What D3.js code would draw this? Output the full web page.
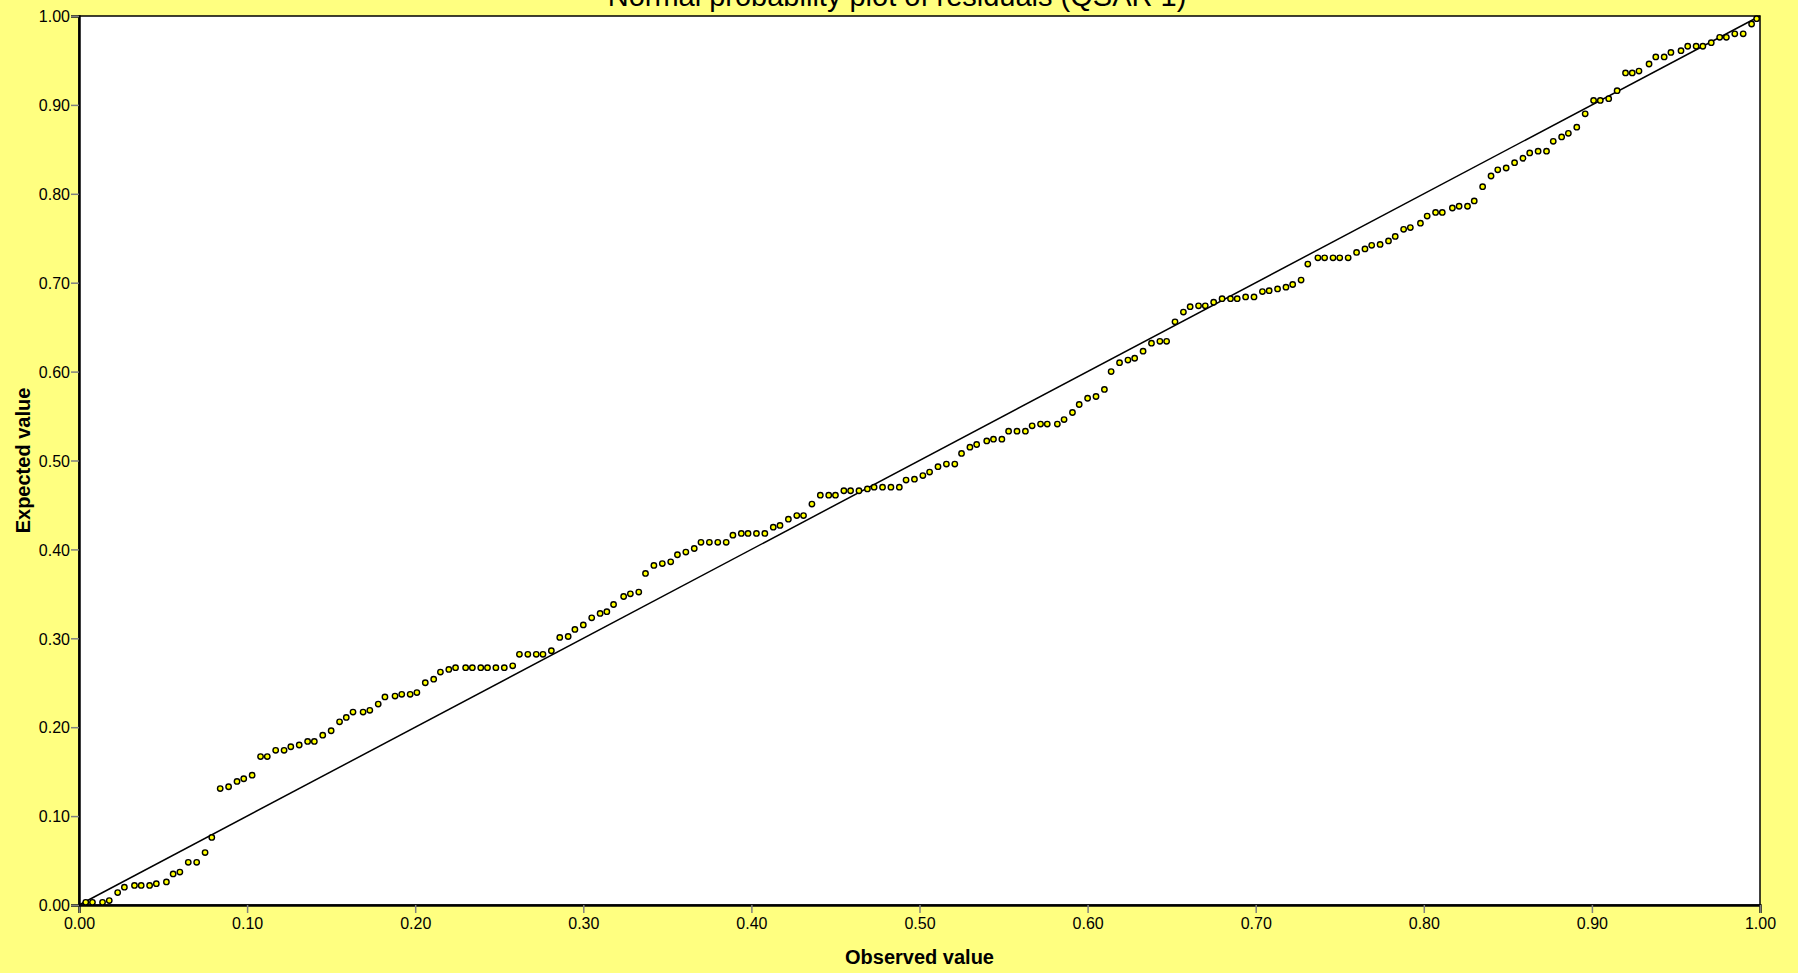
<!DOCTYPE html>
<html>
<head>
<meta charset="utf-8">
<script src="https://cdn.jsdelivr.net/npm/d3@7"></script>
<style>
    html, body { margin: 0; padding: 0; background: #ffff80; }
    svg { display: block; font-family: "Liberation Sans", Arial, sans-serif; }
</style>
</head>
<body>
<div id="plot"></div>
<script>
var title = "Normal probability plot of residuals (QSAR 1)";
var xLabel = "Observed value";
var yLabel = "Expected value";

var xTicks = [0, 0.1, 0.2, 0.3, 0.4, 0.5, 0.6, 0.7, 0.8, 0.9, 1.0];
var yTicks = [0, 0.1, 0.2, 0.3, 0.4, 0.5, 0.6, 0.7, 0.8, 0.9, 1.0];

// observed value of each residual
var observed = [
    0.004, 0.008, 0.014, 0.018, 0.023, 0.027, 0.033, 0.037, 0.042, 0.046,
    0.052, 0.056, 0.060, 0.065, 0.070, 0.075, 0.079, 0.084, 0.089, 0.094,
    0.098, 0.103, 0.108, 0.112, 0.117, 0.122, 0.126, 0.131, 0.136, 0.140,
    0.145, 0.150, 0.155, 0.159, 0.163, 0.169, 0.173, 0.178, 0.182, 0.188,
    0.192, 0.197, 0.201, 0.206, 0.211, 0.215, 0.220, 0.224, 0.230, 0.234,
    0.239, 0.243, 0.248, 0.253, 0.258, 0.262, 0.267, 0.272, 0.276, 0.281,
    0.286, 0.291, 0.295, 0.300, 0.305, 0.310, 0.314, 0.318, 0.324, 0.328,
    0.333, 0.337, 0.342, 0.347, 0.352, 0.356, 0.361, 0.366, 0.370, 0.375,
    0.380, 0.385, 0.389, 0.394, 0.398, 0.403, 0.408, 0.413, 0.417, 0.422,
    0.427, 0.431, 0.436, 0.441, 0.446, 0.450, 0.455, 0.459, 0.464, 0.469,
    0.473, 0.478, 0.483, 0.488, 0.492, 0.497, 0.502, 0.506, 0.511, 0.516,
    0.521, 0.525, 0.530, 0.534, 0.540, 0.544, 0.549, 0.553, 0.558, 0.563,
    0.567, 0.572, 0.576, 0.582, 0.586, 0.591, 0.595, 0.600, 0.605, 0.610,
    0.614, 0.619, 0.624, 0.628, 0.633, 0.638, 0.643, 0.647, 0.652, 0.657,
    0.661, 0.666, 0.670, 0.675, 0.680, 0.685, 0.689, 0.694, 0.699, 0.704,
    0.708, 0.713, 0.718, 0.722, 0.727, 0.731, 0.737, 0.741, 0.746, 0.750,
    0.755, 0.760, 0.765, 0.769, 0.774, 0.779, 0.783, 0.788, 0.792, 0.798,
    0.802, 0.807, 0.811, 0.817, 0.821, 0.826, 0.830, 0.835, 0.840, 0.844,
    0.849, 0.854, 0.859, 0.863, 0.868, 0.873, 0.877, 0.882, 0.886, 0.891,
    0.896, 0.901, 0.905, 0.910, 0.915, 0.920, 0.924, 0.928, 0.934, 0.938,
    0.943, 0.947, 0.953, 0.957, 0.962, 0.966, 0.971, 0.976, 0.980, 0.985,
    0.990, 0.995, 0.998
];

// expected normal value for each residual
var expected = [
    0.003, 0.003, 0.003, 0.005, 0.014, 0.020, 0.022, 0.022, 0.022, 0.024,
    0.026, 0.035, 0.037, 0.048, 0.048, 0.059, 0.076, 0.131, 0.133, 0.139,
    0.142, 0.146, 0.167, 0.167, 0.174, 0.174, 0.178, 0.180, 0.184, 0.184,
    0.191, 0.196, 0.206, 0.211, 0.217, 0.217, 0.219, 0.226, 0.234, 0.235,
    0.237, 0.237, 0.239, 0.250, 0.254, 0.262, 0.265, 0.267, 0.267, 0.267,
    0.267, 0.267, 0.267, 0.267, 0.269, 0.282, 0.282, 0.282, 0.282, 0.286,
    0.301, 0.302, 0.310, 0.315, 0.323, 0.328, 0.330, 0.338, 0.347, 0.350,
    0.352, 0.373, 0.382, 0.384, 0.386, 0.394, 0.397, 0.401, 0.408, 0.408,
    0.408, 0.408, 0.416, 0.418, 0.418, 0.418, 0.418, 0.425, 0.427, 0.434,
    0.438, 0.438, 0.451, 0.461, 0.461, 0.461, 0.466, 0.466, 0.466, 0.468,
    0.470, 0.470, 0.470, 0.470, 0.478, 0.479, 0.483, 0.487, 0.493, 0.496,
    0.496, 0.508, 0.515, 0.518, 0.522, 0.524, 0.524, 0.533, 0.533, 0.533,
    0.539, 0.541, 0.541, 0.541, 0.546, 0.554, 0.563, 0.570, 0.572, 0.580,
    0.600, 0.610, 0.613, 0.615, 0.623, 0.632, 0.634, 0.634, 0.656, 0.667,
    0.673, 0.674, 0.674, 0.678, 0.682, 0.682, 0.682, 0.684, 0.684, 0.690,
    0.691, 0.693, 0.695, 0.698, 0.703, 0.721, 0.728, 0.728, 0.728, 0.728,
    0.728, 0.734, 0.738, 0.742, 0.743, 0.747, 0.752, 0.760, 0.762, 0.767,
    0.775, 0.779, 0.779, 0.784, 0.786, 0.786, 0.792, 0.808, 0.820, 0.827,
    0.829, 0.835, 0.840, 0.846, 0.848, 0.848, 0.859, 0.864, 0.868, 0.875,
    0.890, 0.905, 0.905, 0.907, 0.916, 0.936, 0.936, 0.938, 0.946, 0.954,
    0.954, 0.959, 0.961, 0.966, 0.966, 0.966, 0.970, 0.976, 0.976, 0.980,
    0.980, 0.991, 0.997
];

var view = {
    w: 1798,
    h: 973,
    left: 79,
    right: 1760,
    top: 16,
    bottom: 905
};

var svg = d3.select("#plot")
            .append("svg")
            .attr("width", view.w)
            .attr("height", view.h);

var xScale = d3.scaleLinear()
                .domain([0, 1])
                .range([view.left, view.right]),
    yScale = d3.scaleLinear()
                .domain([0, 1])
                .range([view.bottom, view.top]);

// white plot area
svg.append("rect")
    .attr("x", view.left)
    .attr("y", view.top)
    .attr("width", view.right - view.left)
    .attr("height", view.bottom - view.top)
    .style("fill", "#ffffff")
    .style("stroke", "#000000")
    .style("stroke-width", 1.5);

// axes
var xAxis = d3.axisBottom(xScale)
                .tickValues(xTicks)
                .tickFormat(d3.format(".2f"))
                .tickSize(8)
                .tickPadding(5),
    yAxis = d3.axisLeft(yScale)
                .tickValues(yTicks)
                .tickFormat(d3.format(".2f"))
                .tickSize(8)
                .tickPadding(1);

var g_x = svg.append("g")
            .attr("transform", "translate(0," + view.bottom + ")")
            .call(xAxis);
var g_y = svg.append("g")
            .attr("transform", "translate(" + view.left + ",0)")
            .call(yAxis);

[g_x, g_y].forEach(function(g){
    g.select(".domain")
        .style("stroke", "#000000")
        .style("stroke-width", 2.5);
    g.selectAll(".tick line")
        .style("stroke", "#808080")
        .style("stroke-width", 1.5);
    g.selectAll(".tick text")
        .style("font-family", "'Liberation Sans', Arial, sans-serif")
        .style("font-size", "16px")
        .style("fill", "#000000");
});
g_y.selectAll(".tick text").attr("dy", "0.36em");

// reference line
svg.append("line")
    .attr("x1", xScale(0))
    .attr("y1", yScale(0))
    .attr("x2", xScale(1))
    .attr("y2", yScale(1))
    .style("stroke", "#000000")
    .style("stroke-width", 1.5);

// points
var points = observed.map(function(d, i){ return { x: d, y: expected[i] }; });

svg.append("g").selectAll(".pt")
    .data(points)
    .enter().append("circle")
    .attr("class", "pt")
    .attr("cx", function(d){ return xScale(d.x); })
    .attr("cy", function(d){ return yScale(d.y); })
    .attr("r", 2.7)
    .style("fill", "#ffff00")
    .style("stroke", "#000000")
    .style("stroke-width", 1.4);

// titles (the title sits partly above the top edge, as in the original)
svg.append("text")
    .attr("x", 897)
    .attr("y", 6)
    .attr("text-anchor", "middle")
    .style("font-size", "29px")
    .text(title);

svg.append("text")
    .attr("x", (view.left + view.right) / 2)
    .attr("y", 964)
    .attr("text-anchor", "middle")
    .style("font-size", "20px")
    .style("font-weight", "bold")
    .text(xLabel);

svg.append("text")
    .attr("transform", "translate(30," + ((view.top + view.bottom) / 2) + ") rotate(-90)")
    .attr("text-anchor", "middle")
    .style("font-size", "20px")
    .style("font-weight", "bold")
    .text(yLabel);
</script>
</body>
</html>
